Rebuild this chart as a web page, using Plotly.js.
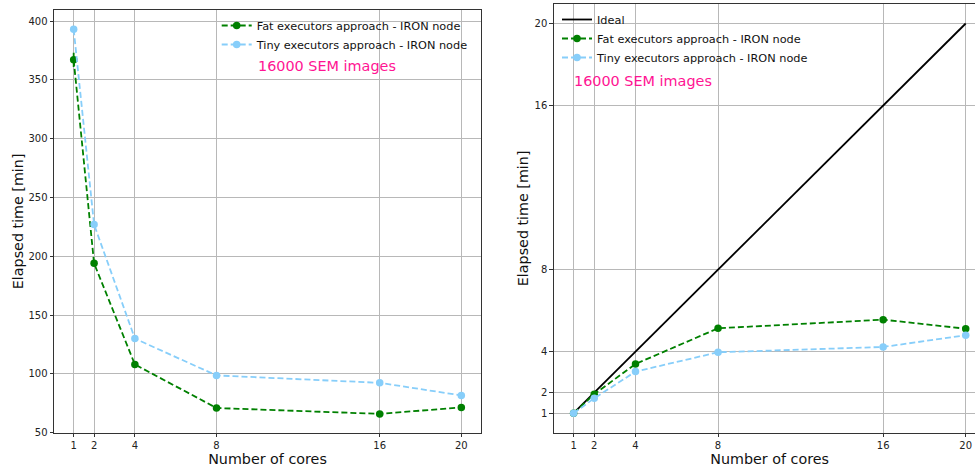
<!DOCTYPE html>
<html>
<head>
<meta charset="utf-8">
<script src="https://cdn.plot.ly/plotly-3.0.1.min.js"></script>
<style>
  html, body { margin: 0; padding: 0; overflow: hidden; background: #fff; }
  #chart { width: 990px; height: 468px; }
</style>
</head>
<body>
<div id="chart"></div>
<script>
// Scaling runs on one IRON node, 16000 SEM images
const cores = [1, 2, 4, 8, 16, 20];
const fatTime = [367, 194, 108, 71, 66, 71.5];
const fatTimeErr = [6, 0, 0, 0, 0, 0];
const tinyTime = [393, 227, 130, 98.7, 92.4, 81.7];
const idealSpeedup = [1, 2, 4, 8, 16, 20];
const fatSpeedup = [1, 1.93, 3.40, 5.14, 5.56, 5.12];
const tinySpeedup = [1, 1.73, 3.03, 3.97, 4.23, 4.80];
const timeTicks = [50, 100, 150, 200, 250, 300, 350, 400];
const speedupTicks = [1, 2, 4, 8, 16, 20];

const fatLabel = 'Fat executors approach - IRON node';
const tinyLabel = 'Tiny executors approach - IRON node';
const idealLabel = 'Ideal';
const noteText = '16000 SEM images';

const FONT = 'DejaVu Sans, Verdana, sans-serif';
const W = 990, H = 468;
const px = v => v / W;
const py = v => 1 - v / H;

const GREEN = '#008000';
const SKY = '#87cefa';

function dashed(color, x, y, xa, ya, name, legend, err) {
  const t = {
    type: 'scatter', mode: 'lines+markers', x: x, y: y,
    xaxis: xa, yaxis: ya, name: name, legend: legend,
    line: { color: color, width: 1.8, dash: '6px,3px' },
    marker: { color: color, size: 7.5, symbol: 'circle' },
    cliponaxis: false
  };
  if (err) t.error_y = { type: 'data', array: err, visible: true, color: color, thickness: 1.8, width: 0 };
  return t;
}

const traces = [
  dashed(GREEN, cores, fatTime, 'x', 'y', fatLabel, 'legend', fatTimeErr),
  dashed(SKY, cores, tinyTime, 'x', 'y', tinyLabel, 'legend'),
  { type: 'scatter', mode: 'lines', x: cores, y: idealSpeedup, xaxis: 'x2', yaxis: 'y2',
    name: idealLabel, legend: 'legend2', line: { color: '#000', width: 1.8 } },
  dashed(GREEN, cores, fatSpeedup, 'x2', 'y2', fatLabel, 'legend2'),
  dashed(SKY, cores, tinySpeedup, 'x2', 'y2', tinyLabel, 'legend2')
];

const axisBase = {
  showline: true, linecolor: '#333', linewidth: 1.2, mirror: true,
  ticks: 'outside', ticklen: 3.5, tickwidth: 1, tickcolor: '#333',
  showgrid: true, gridcolor: '#b8b8b8', gridwidth: 1,
  zeroline: false,
  tickfont: { family: FONT, size: 10, color: '#222' },
  tickmode: 'array'
};

const layout = {
  width: W, height: H,
  margin: { l: 0, r: 0, t: 0, b: 0 },
  paper_bgcolor: '#fff', plot_bgcolor: '#fff',
  font: { family: FONT, color: '#111' },
  xaxis: Object.assign({}, axisBase, {
    domain: [px(54.3), px(480.7)], range: [0.05, 20.95],
    tickvals: cores, ticktext: cores.map(String), anchor: 'y',
    title: { text: 'Number of cores', font: { family: FONT, size: 14.3, color: '#111' }, standoff: 3 }
  }),
  yaxis: Object.assign({}, axisBase, {
    domain: [py(432.7), py(10)], range: [50, 409.4],
    tickvals: timeTicks, ticktext: timeTicks.map(String), anchor: 'x',
    title: { text: 'Elapsed time [min]', font: { family: FONT, size: 14.3, color: '#111' }, standoff: 1 }
  }),
  xaxis2: Object.assign({}, axisBase, {
    domain: [px(554), px(985.3)], range: [0.05, 20.95],
    tickvals: cores, ticktext: cores.map(String), anchor: 'y2',
    title: { text: 'Number of cores', font: { family: FONT, size: 14.3, color: '#111' }, standoff: 3 }
  }),
  yaxis2: Object.assign({}, axisBase, {
    domain: [py(432.7), py(4)], range: [0.05, 20.95],
    tickvals: speedupTicks, ticktext: speedupTicks.map(String), anchor: 'x2',
    title: { text: 'Elapsed time [min]', font: { family: FONT, size: 14.3, color: '#111' }, standoff: 2 }
  }),
  legend: {
    x: px(216.7), xanchor: 'left', y: py(11), yanchor: 'top',
    bgcolor: 'rgba(0,0,0,0)', borderwidth: 0, tracegroupgap: 0,
    font: { family: FONT, size: 11.3, color: '#111' }
  },
  legend2: {
    x: px(557), xanchor: 'left', y: py(5), yanchor: 'top',
    bgcolor: 'rgba(0,0,0,0)', borderwidth: 0, tracegroupgap: 0,
    font: { family: FONT, size: 11.3, color: '#111' }
  },
  annotations: [
    { xref: 'paper', yref: 'paper', x: px(256), y: py(66), xanchor: 'left', yanchor: 'middle',
      text: noteText, showarrow: false, font: { family: FONT, size: 14.4, color: '#ff1493' } },
    { xref: 'paper', yref: 'paper', x: px(572), y: py(81), xanchor: 'left', yanchor: 'middle',
      text: noteText, showarrow: false, font: { family: FONT, size: 14.4, color: '#ff1493' } }
  ],
  showlegend: true
};

Plotly.newPlot('chart', traces, layout, { displayModeBar: false, staticPlot: true });
</script>
</body>
</html>
